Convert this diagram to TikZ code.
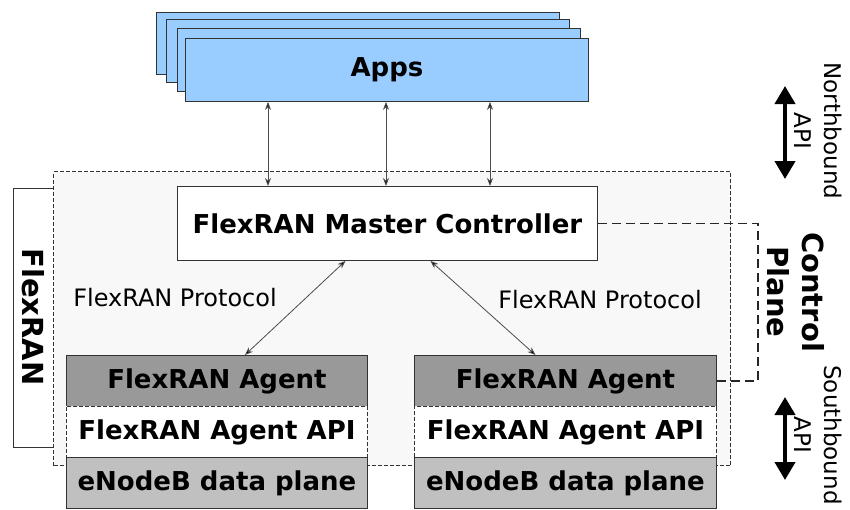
\documentclass[tikz,border=0pt]{standalone}
\usepackage{fontspec}
\setmainfont{DejaVu Sans}
\usetikzlibrary{arrows.meta}
\definecolor{appblue}{HTML}{99CCFF}
\definecolor{regionfill}{HTML}{F8F8F8}
\definecolor{agentgray}{HTML}{999999}
\definecolor{enbgray}{HTML}{C0C0C0}
\definecolor{edge}{HTML}{333333}
\begin{document}
\begin{tikzpicture}[x=1pt,y=-1pt,
  box/.style={draw=edge, line width=0.9pt, inner sep=0pt, anchor=north west, font=\bfseries\fontsize{26}{30}\selectfont},
  appbox/.style={box, fill=appblue, minimum width=403pt, minimum height=63pt},
  colbox/.style={box, minimum width=301pt, minimum height=51pt},
  dashbox/.style={dash pattern=on 4pt off 2pt},
  thinarr/.style={{Stealth[length=8pt,width=6pt,fill=black]}-{Stealth[length=8pt,width=6pt,fill=black]}, draw=black!70, line width=0.8pt},
  thickarr/.style={{Triangle[length=18pt,width=20pt]}-{Triangle[length=18pt,width=20pt]}, line width=4pt},
  cpline/.style={draw=black!85, line width=1.8pt, dash pattern=on 9pt off 5pt},
  lbl/.style={font=\fontsize{24}{28}\selectfont},
  vlbl/.style={font=\bfseries\fontsize{29}{35}\selectfont, rotate=-90, align=center},
  vapi/.style={font=\fontsize{23}{30}\selectfont, rotate=-90, align=center}
]
\useasboundingbox (0,0) rectangle (850,509);
% FlexRAN side box
\node[draw=edge, line width=0.9pt, anchor=north west, minimum width=43pt, minimum height=259pt, inner sep=0pt] (fbox) at (13,188) {};
% region
\node[draw=edge, dashbox, line width=1pt, fill=regionfill, anchor=north west, minimum width=677pt, minimum height=294pt, inner sep=0pt] (region) at (53,171) {};
\node[vlbl] (flabel) at (33,317) {FlexRAN};
% apps
\node[appbox, minimum height=62pt] (app1) at (156,12) {};
\node[appbox] (app2) at (166,19) {};
\node[appbox] (app3) at (177,28) {};
\node[appbox] (app4) at (185,38) {Apps};
% master controller
\node[box, fill=white, minimum width=420pt, minimum height=74pt] (mc) at (177,186) {FlexRAN Master Controller};
% agents
\node[colbox, fill=agentgray] (ag1) at (66,355) {FlexRAN Agent};
\node[colbox, fill=white, dashbox] (api1) at (66,406) {FlexRAN Agent API};
\node[colbox, fill=enbgray] (enb1) at (66,457) {eNodeB data plane};
\node[colbox, fill=agentgray, minimum width=302pt] (ag2) at (414,355) {FlexRAN Agent};
\node[colbox, fill=white, dashbox, minimum width=302pt] (api2) at (414,406) {FlexRAN Agent API};
\node[colbox, fill=enbgray, minimum width=302pt] (enb2) at (414,457) {eNodeB data plane};
% app arrows
\coordinate (xa) at (268,0);
\coordinate (xb) at (386,0);
\coordinate (xc) at (490,0);
\draw[thinarr] (app4.south -| xa) -- (mc.north -| xa);
\draw[thinarr] (app4.south -| xb) -- (mc.north -| xb);
\draw[thinarr] (app4.south -| xc) -- (mc.north -| xc);
% protocol arrows
\draw[thinarr] ([xshift=-42pt]mc.south) -- ([xshift=28pt]ag1.north);
\draw[thinarr] ([xshift=43pt]mc.south) -- ([xshift=-30pt]ag2.north);
\node[lbl] (p1) at (175,298) {FlexRAN Protocol};
\node[lbl] (p2) at (600,300) {FlexRAN Protocol};
% control plane dashed line
\coordinate (cpx) at (758,0);
\draw[cpline] (mc.east) -- (mc.east -| cpx) -- (ag2.east -| cpx) -- (ag2.east);
\node[vlbl] (cplabel) at (796,292) {Control\\Plane};
% northbound / southbound
\coordinate (nb1) at (785,86);
\coordinate (nb2) at (785,179);
\draw[thickarr] (nb1) -- (nb2);
\node[vapi] (nblabel) at (818,131) {Northbound\\API};
\coordinate (sb1) at (785,397);
\coordinate (sb2) at (785,480);
\draw[thickarr] (sb1) -- (sb2);
\node[vapi] (sblabel) at (818,435) {Southbound\\API};
\end{tikzpicture}
\end{document}
